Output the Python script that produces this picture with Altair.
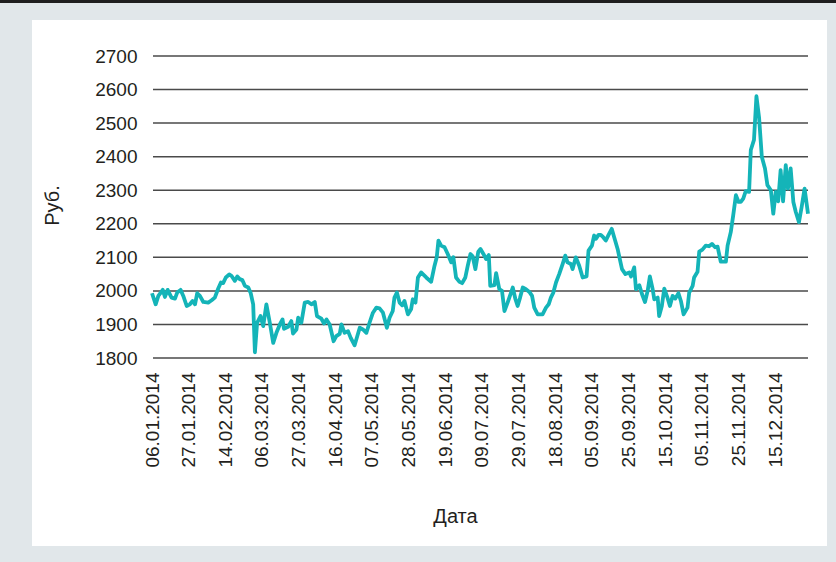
import altair as alt
import pandas as pd

# trading-day index (position along the category axis) and price
day_index = [0, 1.5, 2.6, 4.4, 5.3, 6.4, 8.0, 9.4, 10.3, 11.7, 12.8, 14.2, 15.5, 16.6, 17.6, 18.5, 19.6, 21.0, 23.0, 24.4,
             25.7, 27.1, 28.2, 29.1, 30.2, 31.6, 32.5, 33.9, 34.9, 35.9, 37.0, 38.0, 39.4, 40.4, 41.4, 42.1, 43.0, 44.4, 45.5, 46.8,
             48.2, 49.6, 50.9, 52.3, 53.4, 54.0, 55.7, 57.0, 57.7, 59.1, 59.8, 61.1, 62.5, 63.9, 65.2, 66.6, 67.5, 69.3, 70.4, 71.4,
             72.7, 74.3, 75.4, 76.8, 77.5, 78.8, 80.2, 81.3, 82.9, 85.0, 86.3, 87.7, 89.0, 90.4, 91.8, 93.1, 94.5, 96.1, 97.2, 98.5,
             99.2, 100.2, 101.3, 102.4, 103.3, 104.7, 106.0, 106.7, 107.8, 108.8, 110.1, 112.2, 114.2, 115.6, 116.5, 117.2, 118.3, 119.7, 121.0, 122.4,
             123.3, 124.4, 125.8, 126.9, 128.2, 129.2, 130.3, 131.2, 132.3, 133.5, 134.4, 135.6, 136.7, 137.8, 138.4, 140.1, 140.8, 142.1, 143.2, 144.2,
             145.5, 146.9, 147.6, 148.7, 149.6, 150.6, 151.7, 153.0, 154.4, 155.5, 156.4, 157.8, 159.8, 161.2, 162.3, 163.2, 164.2, 165.3, 166.6, 168.0,
             169.1, 170.0, 171.4, 172.1, 173.4, 174.8, 176.2, 177.8, 178.6, 180.0, 180.9, 181.6, 182.7, 183.6, 184.6, 185.7, 186.8, 188.1, 189.1, 190.5,
             192.3, 193.7, 195.3, 196.0, 197.3, 198.0, 199.4, 200.5, 201.7, 202.8, 203.7, 204.8, 205.5, 206.9, 207.5, 208.6, 209.6, 210.9, 211.9, 213.0,
             214.1, 215.4, 216.4, 217.5, 219.1, 219.8, 221.2, 221.8, 223.2, 223.9, 225.2, 226.6, 227.9, 229.1, 230.4, 231.4, 232.7, 234.8, 235.5, 236.8,
             237.8, 238.9, 240.0, 240.9, 241.9, 242.9, 244.3, 245.0, 246.3, 247.3, 248.4, 249.5, 250.8, 251.8, 253.2, 254.2, 255.2, 256.2, 257.2, 258.2,
             259.3, 260.2, 261.3, 262.4, 263.4, 264.7, 265.8, 267.0, 268.4]
price = [1993, 1960, 1985, 2003, 1982, 2003, 1980, 1977, 1995, 2003, 1985, 1955, 1960, 1970, 1960, 1993, 1985, 1967, 1965, 1972,
         1980, 2007, 2025, 2023, 2040, 2049, 2045, 2030, 2043, 2035, 2032, 2015, 2010, 1993, 1960, 1817, 1905, 1925, 1895, 1960,
         1905, 1845, 1875, 1900, 1915, 1887, 1893, 1910, 1873, 1885, 1920, 1905, 1965, 1967, 1960, 1967, 1925, 1917, 1903, 1915,
         1900, 1850, 1865, 1872, 1900, 1875, 1880, 1860, 1838, 1890, 1885, 1875, 1905, 1935, 1950, 1948, 1935, 1890, 1920, 1940,
         1980, 1995, 1965, 1957, 1970, 1930, 1945, 1975, 1965, 2040, 2055, 2040, 2027, 2075, 2100, 2150, 2135, 2130, 2110, 2085,
         2100, 2040, 2027, 2023, 2040, 2075, 2110, 2103, 2065, 2117, 2125, 2110, 2095, 2107, 2015, 2017, 2053, 2005, 2000, 1940,
         1965, 1995, 2010, 1975, 1955, 1980, 2010, 2005, 1997, 1985, 1950, 1930, 1930, 1950, 1960, 1980, 1995, 2025, 2050, 2080,
         2105, 2085, 2080, 2065, 2100, 2075, 2040, 2043, 2120, 2135, 2165, 2155, 2167, 2167, 2160, 2150, 2167, 2185, 2160, 2125,
         2065, 2050, 2055, 2043, 2070, 2005, 2017, 1990, 1967, 2000, 2043, 2007, 1975, 1980, 1925, 1955, 2007, 1980, 1955, 1985,
         1977, 1993, 1970, 1930, 1950, 1995, 2015, 2040, 2057, 2117, 2123, 2135, 2133, 2140, 2130, 2132, 2087, 2087, 2135, 2175,
         2225, 2285, 2265, 2265, 2275, 2297, 2295, 2420, 2450, 2580, 2515, 2400, 2365, 2315, 2300, 2230, 2295, 2267, 2360, 2267,
         2375, 2305, 2365, 2265, 2235, 2205, 2250, 2305, 2230]

tick_days = [0, 15, 30, 45, 60, 75, 90, 105, 120, 135, 150, 165, 180, 195, 210, 225, 240, 255]
tick_labels = ["06.01.2014", "27.01.2014", "14.02.2014", "06.03.2014", "27.03.2014", "16.04.2014",
               "07.05.2014", "28.05.2014", "19.06.2014", "09.07.2014", "29.07.2014", "18.08.2014",
               "05.09.2014", "25.09.2014", "15.10.2014", "05.11.2014", "25.11.2014", "15.12.2014"]
y_ticks = [1800, 1900, 2000, 2100, 2200, 2300, 2400, 2500, 2600, 2700]

df = pd.DataFrame({"day": day_index, "price": price})
grid_df = pd.DataFrame({"v": y_ticks})
one = pd.DataFrame({"a": [0]})

W, H = 656, 302
PL, PT, PR, PB = 152, 56, 28, 204
FONT = "Liberation Sans"

label_expr = "[" + ",".join("'%s'" % t for t in tick_labels) + "][round(datum.value / 15)]"

x_scale = alt.Scale(domain=[0, 268.4], nice=False, zero=False)
y_scale = alt.Scale(domain=[1800, 2700], nice=False, zero=False)

panel = alt.Chart(one).mark_rect(color="white").encode(
    x=alt.value(32 - PL), x2=alt.value(827 - PL),
    y=alt.value(20 - PT), y2=alt.value(546 - PT))

topbar = alt.Chart(one).mark_rect(color="#1e1e1e").encode(
    x=alt.value(-PL), x2=alt.value(836 - PL),
    y=alt.value(-PT), y2=alt.value(3 - PT))

y_axis = alt.Axis(values=y_ticks, format="d", title="Руб.", grid=False, domain=False, ticks=False, zindex=1,
                  labelPadding=15, labelFontSize=19, labelFont=FONT, labelColor="#231f20",
                  titleFont=FONT, titleFontSize=20, titleFontWeight="normal", titleColor="#231f20",
                  titleX=-100, titleY=149, titleBaseline="middle", titleAlign="center")

grid = alt.Chart(grid_df).mark_rule(color="#4a4a4a", strokeWidth=1.5).encode(
    y=alt.Y("v:Q", scale=y_scale, axis=y_axis),
    x=alt.value(1), x2=alt.value(W))

line = alt.Chart(df).mark_line(color="#14b4b8", strokeWidth=3.8, strokeJoin="round").encode(
    x=alt.X("day:Q", scale=x_scale,
            axis=alt.Axis(values=tick_days, labelExpr=label_expr, labelAngle=270,
                          title="Дата", grid=False, domain=False, ticks=False, zindex=1,
                          labelPadding=14, labelFontSize=19, labelFont=FONT, labelColor="#231f20",
                          labelFlush=False, labelOverlap=False,
                          titleFont=FONT, titleFontSize=20, titleFontWeight="normal", titleColor="#231f20",
                          titleX=303, titleY=164, titleAlign="center", titleBaseline="alphabetic")),
    y=alt.Y("price:Q", scale=y_scale, axis=y_axis))

chart = alt.layer(panel, topbar, grid, line).properties(
    width=W, height=H, background="#e1e7ea",
    padding={"left": PL, "top": PT, "right": PR, "bottom": PB},
    autosize=alt.AutoSizeParams(type="none")
).configure_view(stroke=None)

chart.save("out.html", embed_options={"renderer": "svg", "actions": False})
